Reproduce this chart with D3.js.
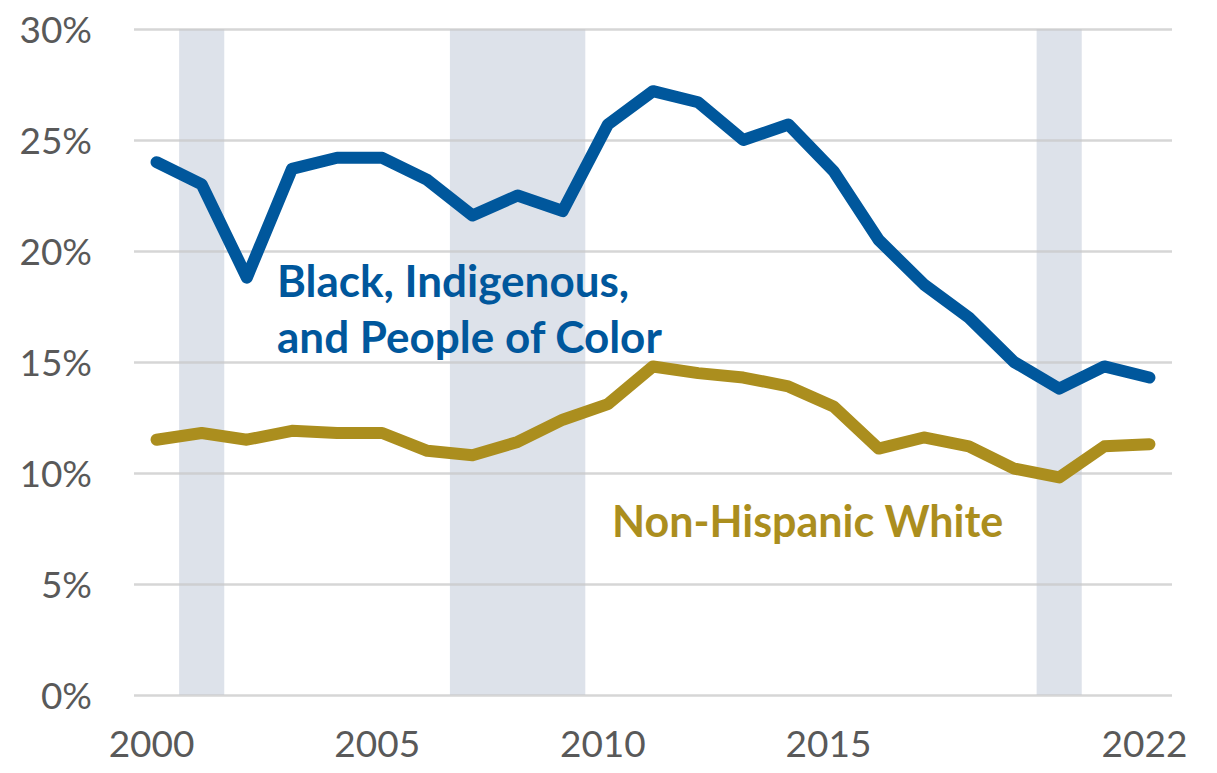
<!DOCTYPE html>
<html>
<head>
<meta charset="utf-8">
<script src="https://cdn.jsdelivr.net/npm/d3@7.9.0/dist/d3.min.js"></script>
<style>
  body { margin: 0; background: #fff; }
  svg { display: block; font-family: Lato, "Open Sans", sans-serif; }
</style>
</head>
<body>
<svg width="1217" height="773"></svg>
<script>
const years = d3.range(2000, 2023);
const bipoc = [24.0, 23.0, 18.8, 23.7, 24.2, 24.2, 23.2, 21.6, 22.5, 21.8, 25.7, 27.2, 26.7,
  25.0, 25.7, 23.6, 20.5, 18.5, 17.0, 15.0, 13.8, 14.8, 14.3];
const white = [11.5, 11.8, 11.5, 11.9, 11.8, 11.8, 11.0, 10.8, 11.4, 12.4, 13.1, 14.8, 14.5,
  14.3, 13.9, 13.0, 11.1, 11.6, 11.2, 10.2, 9.8, 11.2, 11.3];
const recessions = [[2001, 2001], [2007, 2009], [2020, 2020]];
const xTickYears = [2000, 2005, 2010, 2015, 2022];
const yTicks = [0, 5, 10, 15, 20, 25, 30];

const svg = d3.select('svg');
const margin = { left: 134, right: 45, top: 29, bottom: 78 };
const width = 1217, height = 773;

let x = d3.scaleBand().domain(years).range([margin.left, width - margin.right]);
let y = d3.scaleLinear().domain([0, 30]).range([height - margin.bottom, margin.top]);

// recession shading
svg.append('g')
  .selectAll('rect')
  .data(recessions)
  .join('rect')
  .attr('x', d => x(d[0]))
  .attr('width', d => x(d[1]) + x.bandwidth() - x(d[0]))
  .attr('y', y(30))
  .attr('height', y(0) - y(30))
  .attr('fill', '#dde2ea');

// gridlines + y labels
let yAxis = svg.append('g')
  .attr('transform', `translate(${margin.left},0)`)
  .call(d3.axisLeft(y).tickValues(yTicks).tickFormat(d => d + '%')
    .tickSize(-(width - margin.left - margin.right)).tickPadding(42));
yAxis.attr('font-family', null).attr('font-size', 37);
yAxis.select('.domain').remove();
yAxis.selectAll('.tick line').attr('stroke', '#c8c8c8').attr('stroke-opacity', 0.75).attr('stroke-width', 2.5);
yAxis.selectAll('.tick text').attr('fill', '#595959').attr('dy', '0.36em');

// x labels
let xAxis = svg.append('g')
  .attr('transform', `translate(0,${y(0)})`)
  .call(d3.axisBottom(x).tickValues(xTickYears).tickSize(0).tickPadding(36));
xAxis.attr('font-family', null).attr('font-size', 37);
xAxis.select('.domain').remove();
xAxis.selectAll('.tick text').attr('fill', '#595959').attr('dx', '-5');

let line = d3.line()
  .x((d, i) => x(years[i]) + x.bandwidth() / 2)
  .y(d => y(d));

const series = [
  { name: 'white', values: white, color: '#ab8e1e' },
  { name: 'bipoc', values: bipoc, color: '#00579c' }
];

series.forEach(s => {
  svg.append('path')
    .datum(s.values)
    .attr('d', line)
    .attr('fill', 'none')
    .attr('stroke', s.color)
    .attr('stroke-width', 12)
    .attr('stroke-linejoin', 'round')
    .attr('stroke-linecap', 'round');
});

// labels
let bl = svg.append('text')
  .attr('fill', '#00579c')
  .attr('font-weight', 'bold')
  .attr('font-size', 44);
bl.append('tspan').attr('x', 277).attr('y', 297).text('Black, Indigenous,');
bl.append('tspan').attr('x', 277).attr('y', 353).text('and People of Color');

svg.append('text')
  .attr('x', 612)
  .attr('y', 537)
  .attr('fill', '#ab8e1e')
  .attr('font-weight', 'bold')
  .attr('font-size', 43)
  .text('Non-Hispanic White');
</script>
</body>
</html>
